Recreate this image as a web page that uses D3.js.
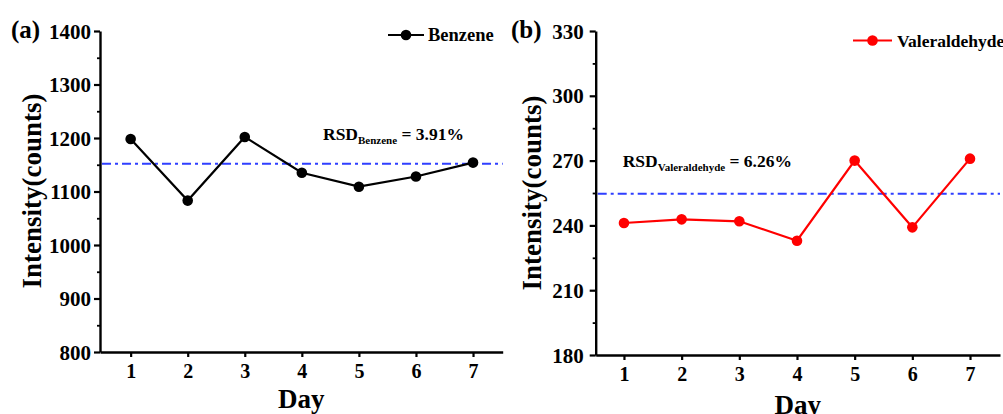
<!DOCTYPE html>
<html>
<head>
<meta charset="utf-8">
<script src="https://cdn.jsdelivr.net/npm/d3@7"></script>
<style>
  html, body { margin: 0; padding: 0; background: #fff; }
  svg { display: block; }
  text { font-family: "Liberation Serif", "Times New Roman", serif; font-weight: bold; fill: #000; }
</style>
</head>
<body>
<svg id="chart" width="1003" height="414"></svg>
<script>
// ---- data ----
const days = [1, 2, 3, 4, 5, 6, 7];
const benzene = [1198, 1083, 1202, 1135, 1109, 1128, 1154];
const valeraldehyde = [241.1, 242.8, 241.9, 232.9, 270.0, 239.1, 270.9];
const benzeneMean = 1152;
const valeraldehydeMean = 254.6;
const benzeneTicks = [800, 900, 1000, 1100, 1200, 1300, 1400];
const benzeneMinor = [850, 950, 1050, 1150, 1250, 1350];
const valTicks = [180, 210, 240, 270, 300, 330];
const valMinor = [195, 225, 255, 285, 315];
const panelLabels = ["(a)", "(b)"];
const seriesNames = ["Benzene", "Valeraldehyde"];
const rsdSubs = ["Benzene", "Valeraldehyde"];
const rsdValues = ["3.91%", "6.26%"];

const svg = d3.select("#chart");

const panels = [
  {
    label: panelLabels[0], name: seriesNames[0], values: benzene, mean: benzeneMean,
    ticks: benzeneTicks, minor: benzeneMinor, yDomain: [800, 1400],
    xRange: [100, 502.7], xDomain: [0.463, 7.52], yRange: [352, 31],
    color: "#000000", labelX: 11, yLabelX: 41, yLabelCY: 191, dayY: 408,
    legend: { x1: 388, x2: 424, y: 35, tx: 428, fs: 18.5 },
    rsd: { x: 323, y: 140, sub: rsdSubs[0], val: rsdValues[0] },
    tickLabelGap: 9
  },
  {
    label: panelLabels[1], name: seriesNames[1], values: valeraldehyde, mean: valeraldehydeMean,
    ticks: valTicks, minor: valMinor, yDomain: [180, 330],
    xRange: [595.7, 1000], xDomain: [0.51, 7.52], yRange: [355, 31],
    color: "#ff0000", labelX: 511, yLabelX: 541, yLabelCY: 193, dayY: 414,
    legend: { x1: 853, x2: 892, y: 40.5, tx: 897, fs: 17.5 },
    rsd: { x: 622.7, y: 166.7, sub: rsdSubs[1], val: rsdValues[1] },
    tickLabelGap: 12
  }
];

panels.forEach(p => {
  const x = d3.scaleLinear().domain(p.xDomain).range(p.xRange);
  const y = d3.scaleLinear().domain(p.yDomain).range(p.yRange);
  const g = svg.append("g");

  // mean line (dash-dot)
  g.append("line")
    .attr("x1", p.xRange[0] + 2).attr("x2", p.xRange[1])
    .attr("y1", y(p.mean)).attr("y2", y(p.mean))
    .attr("stroke", "#2f3fff").attr("stroke-width", 2)
    .attr("stroke-dasharray", "9,4,3,4");

  // x axis
  const xAxis = d3.axisBottom(x).tickValues(days).tickFormat(d3.format("d"))
    .tickSize(5).tickPadding(6).tickSizeOuter(0);
  const gx = g.append("g").attr("transform", `translate(0,${p.yRange[0]})`).call(xAxis);
  gx.select(".domain").attr("stroke", "#000").attr("stroke-width", 2.4);
  gx.selectAll(".tick line").attr("stroke", "#000").attr("stroke-width", 2.2);
  gx.selectAll(".tick text").style("font-size", "20px").attr("dy", "0.75em");

  // y axis minor ticks
  const yMinor = d3.axisLeft(y).tickValues(p.minor).tickSize(3).tickFormat("").tickSizeOuter(0);
  const gym = g.append("g").attr("transform", `translate(${p.xRange[0]},0)`).call(yMinor);
  gym.select(".domain").remove();
  gym.selectAll(".tick line").attr("stroke", "#000").attr("stroke-width", 1.8);

  // y axis
  const yAxis = d3.axisLeft(y).tickValues(p.ticks).tickFormat(d3.format("d"))
    .tickSize(6).tickPadding(p.tickLabelGap - 6).tickSizeOuter(0);
  const gy = g.append("g").attr("transform", `translate(${p.xRange[0]},0)`).call(yAxis);
  gy.select(".domain").attr("stroke", "#000").attr("stroke-width", 2.4);
  gy.selectAll(".tick line").attr("stroke", "#000").attr("stroke-width", 2.2);
  gy.selectAll(".tick text").style("font-size", "21px").attr("dy", "0.34em");

  // series line
  const line = d3.line().x((d, i) => x(days[i])).y(d => y(d));
  g.append("path").datum(p.values)
    .attr("d", line).attr("fill", "none")
    .attr("stroke", p.color).attr("stroke-width", 2.2);
  g.selectAll("circle.pt").data(p.values).enter().append("circle")
    .attr("class", "pt")
    .attr("cx", (d, i) => x(days[i])).attr("cy", d => y(d))
    .attr("r", 5.3).attr("fill", p.color);

  // panel label
  g.append("text").attr("x", p.labelX).attr("y", 38)
    .style("font-size", "25px").text(p.label);

  // axis titles
  g.append("text").attr("x", (p.xRange[0] + p.xRange[1]) / 2).attr("y", p.dayY)
    .attr("text-anchor", "middle").style("font-size", "27px").text("Day");
  g.append("text")
    .attr("transform", `translate(${p.yLabelX},${p.yLabelCY}) rotate(-90)`)
    .attr("text-anchor", "middle").style("font-size", "27px").text("Intensity(counts)");

  // legend
  g.append("line").attr("x1", p.legend.x1).attr("x2", p.legend.x2)
    .attr("y1", p.legend.y).attr("y2", p.legend.y)
    .attr("stroke", p.color).attr("stroke-width", 2.2);
  g.append("circle").attr("cx", (p.legend.x1 + p.legend.x2) / 2).attr("cy", p.legend.y)
    .attr("r", 5.3).attr("fill", p.color);
  g.append("text").attr("x", p.legend.tx).attr("y", p.legend.y + 6)
    .style("font-size", p.legend.fs + "px").text(p.name);

  // RSD annotation
  const t = g.append("text").attr("x", p.rsd.x).attr("y", p.rsd.y).style("font-size", "17.5px");
  t.append("tspan").text("RSD");
  t.append("tspan").attr("dy", 4).style("font-size", "11px").text(p.rsd.sub);
  t.append("tspan").attr("dy", -4).text(" = " + p.rsd.val);
});
</script>
</body>
</html>
